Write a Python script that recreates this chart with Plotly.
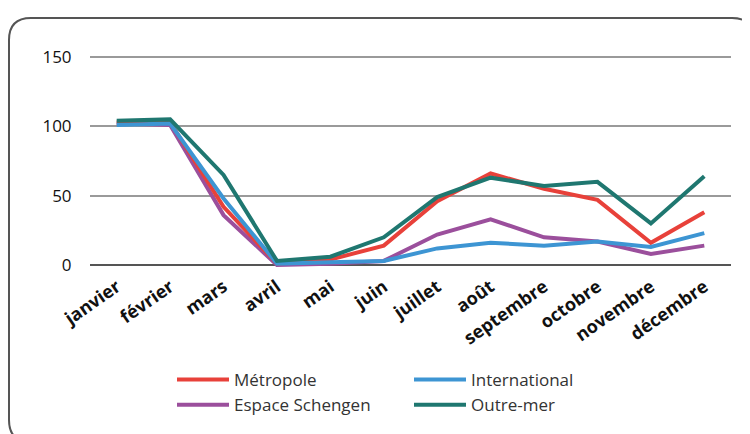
import plotly.graph_objects as go

months = ["janvier", "février", "mars", "avril", "mai", "juin", "juillet",
          "août", "septembre", "octobre", "novembre", "décembre"]
metropole = [103, 103, 42, 1, 4, 14, 46, 66, 55, 47, 16, 38]
international = [101, 102, 48, 1, 2, 3, 12, 16, 14, 17, 13, 23]
schengen = [102, 101, 36, 0, 1, 3, 22, 33, 20, 17, 8, 14]
outremer = [104, 105, 65, 3, 6, 20, 49, 63, 57, 60, 30, 64]
yticks = [0, 50, 100, 150]

OFF = 8  # page body margin
W, H = 750, 434
ML, MR, MT, MB = 90 - OFF, 19 + OFF, 50 - OFF, 162 + OFF
PW, PH = W - ML - MR, H - MT - MB

def px(x):
    return (x - OFF - ML) / PW

def py(y):
    return (H - MB - (y - OFF)) / PH

fig = go.Figure()
series = [
    ("Espace Schengen", schengen, "#9b4f9c", 3),
    ("Métropole", metropole, "#e8413a", 1),
    ("International", international, "#3d95d3", 2),
    ("Outre-mer", outremer, "#1f7770", 4),
]
for name, vals, col, rank in series:
    fig.add_trace(go.Scatter(x=months, y=vals, name=name, mode="lines",
                             line=dict(color=col, width=4), legendrank=rank))

# rounded frame
x0, y0, x1, y1, r = 9, 18, 754, 442, 22
path = (f"M {px(x0)},{py(y1 - r)} L {px(x0)},{py(y0 + r)} "
        f"Q {px(x0)},{py(y0)} {px(x0 + r)},{py(y0)} "
        f"L {px(x1 - r)},{py(y0)} Q {px(x1)},{py(y0)} {px(x1)},{py(y0 + r)} "
        f"L {px(x1)},{py(y1 - r)} Q {px(x1)},{py(y1)} {px(x1 - r)},{py(y1)} "
        f"L {px(x0 + r)},{py(y1)} Q {px(x0)},{py(y1)} {px(x0)},{py(y1 - r)} Z")
fig.add_shape(type="path", path=path, xref="paper", yref="paper",
              line=dict(color="#555555", width=2), layer="below")

fig.update_layout(
    width=W, height=H,
    margin=dict(l=ML, r=MR, t=MT, b=MB, autoexpand=False),
    paper_bgcolor="white", plot_bgcolor="white",
    font=dict(family="Open Sans", color="#222222", size=15),
    showlegend=True,
    legend=dict(orientation="h", x=px(172), y=py(362), xanchor="left", yanchor="top",
                entrywidth=170, entrywidthmode="pixels",
                font=dict(size=17, color="#333333"), tracegroupgap=0,
                itemwidth=52, bgcolor="rgba(0,0,0,0)"),
    xaxis=dict(type="category", range=[-0.5, 11.5], showgrid=False,
               tickangle=-35, ticks="", showline=False, automargin=False,
               tickfont=dict(family="Open Sans", size=18, color="#111111",
                             weight="bold")),
    yaxis=dict(range=[-5, 155], tickvals=yticks, showgrid=True, automargin=False,
               gridcolor="#9a9a9a", gridwidth=2, zeroline=True,
               zerolinecolor="#555555", zerolinewidth=2,
               ticks="outside", ticklen=14, tickcolor="rgba(0,0,0,0)",
               tickfont=dict(size=17, color="#111111")),
)
fig.write_html("out.html")
